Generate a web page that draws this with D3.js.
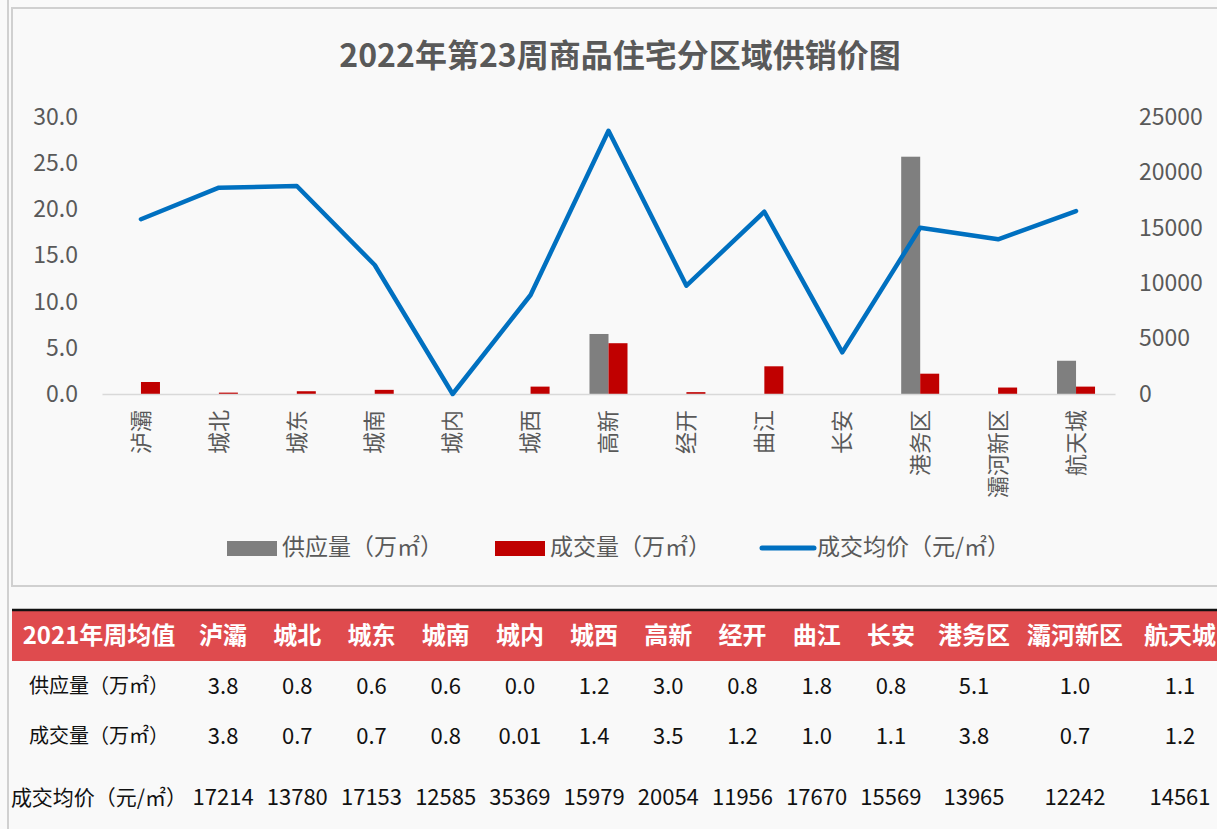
<!DOCTYPE html>
<html>
<head>
<meta charset="utf-8">
<script src="https://cdn.jsdelivr.net/npm/d3@7"></script>
<style>
  body { margin: 0; background: #f9f9f9; }
  svg { display: block; font-family: "Noto Sans CJK SC", "Noto Sans", sans-serif; }
</style>
</head>
<body>
<div id="chart"></div>
<script>
const categories = ["泸灞","城北","城东","城南","城内","城西","高新","经开","曲江","长安","港务区","灞河新区","航天城"];
const supply = [0, 0, 0, 0, 0, 0, 6.5, 0, 0, 0, 25.7, 0, 3.6];
const deal = [1.3, 0.15, 0.3, 0.45, 0, 0.8, 5.5, 0.2, 3.0, 0, 2.2, 0.7, 0.8];
const price = [15770, 18620, 18770, 11640, 0, 8935, 23760, 9775, 16450, 3760, 15010, 13960, 16515];

const seriesNames = ["供应量（万㎡）", "成交量（万㎡）", "成交均价（元/㎡）"];
const leftTicks = [0, 5, 10, 15, 20, 25, 30];
const rightTicks = [0, 5000, 10000, 15000, 20000, 25000];

const tableHead = "2021年周均值";
const rowLabels = ["供应量（万㎡）", "成交量（万㎡）", "成交均价（元/㎡）"];
const avgSupply = ["3.8","0.8","0.6","0.6","0.0","1.2","3.0","0.8","1.8","0.8","5.1","1.0","1.1"];
const avgDeal = ["3.8","0.7","0.7","0.8","0.01","1.4","3.5","1.2","1.0","1.1","3.8","0.7","1.2"];
const avgPrice = ["17214","13780","17153","12585","35369","15979","20054","11956","17670","15569","13965","12242","14561"];

const width = 1217, height = 829;
const grey = "#7f7f7f", red = "#c00000", blue = "#0070c0", txt = "#595959";

const svg = d3.select("#chart").append("svg")
  .attr("width", width).attr("height", height);

svg.append("rect").attr("width", width).attr("height", height).attr("fill", "#f9f9f9");

// frame lines
svg.append("line").attr("x1", 8).attr("x2", 8).attr("y1", 0).attr("y2", height)
  .attr("stroke", "#d0d0d0").attr("stroke-width", 2);
svg.append("rect").attr("x", 12).attr("y", 8).attr("width", 1220).attr("height", 578)
  .attr("fill", "#f9f9f9").attr("stroke", "#d0d0d0").attr("stroke-width", 2);

// title
svg.append("text").attr("x", 620).attr("y", 58)
  .attr("text-anchor", "middle").attr("dominant-baseline", "middle")
  .attr("font-size", 32).attr("font-weight", "bold").attr("fill", txt)
  .text("2022年第23周商品住宅分区域供销价图");

const x = d3.scaleBand().domain(categories).range([102, 1115]).padding(0);
const bw = 19;
const sub = d3.scaleBand().domain([0, 1]).range([x.bandwidth() / 2 - bw, x.bandwidth() / 2 + bw]);
const yL = d3.scaleLinear().domain([0, 30]).range([394, 117]);
const yR = d3.scaleLinear().domain([0, 25000]).range([394, 117]);

// bars
const g = svg.append("g");
g.selectAll("rect.s").data(supply).join("rect")
  .attr("class", "s")
  .attr("x", (d, i) => x(categories[i]) + sub(0))
  .attr("y", d => yL(d))
  .attr("width", sub.bandwidth())
  .attr("height", d => yL(0) - yL(d))
  .attr("fill", grey);
g.selectAll("rect.d").data(deal).join("rect")
  .attr("class", "d")
  .attr("x", (d, i) => x(categories[i]) + sub(1))
  .attr("y", d => yL(d))
  .attr("width", sub.bandwidth())
  .attr("height", d => yL(0) - yL(d))
  .attr("fill", red);

// x axis
const xAxis = svg.append("g").attr("transform", `translate(0,${yL(0)})`)
  .call(d3.axisBottom(x).tickSize(0).tickSizeOuter(0));
xAxis.select(".domain").attr("stroke", "#d9d9d9").attr("stroke-width", 1.5);
xAxis.selectAll("text")
  .attr("font-size", 22).attr("fill", txt).attr("font-family", "Noto Sans CJK SC")
  .attr("transform", "rotate(-90)")
  .attr("text-anchor", "end")
  .attr("x", -16).attr("y", 0).attr("dy", "0.35em");

// left axis
const la = svg.append("g").attr("transform", "translate(78,0)")
  .call(d3.axisLeft(yL).tickValues(leftTicks).tickFormat(d3.format(".1f")).tickSize(0).tickPadding(0));
la.select(".domain").remove();
la.selectAll("text").attr("font-size", 23).attr("fill", txt).attr("font-family", "Noto Sans CJK SC");

// right axis
const ra = svg.append("g").attr("transform", "translate(1139,0)")
  .call(d3.axisRight(yR).tickValues(rightTicks).tickFormat(d3.format("d")).tickSize(0).tickPadding(0));
ra.select(".domain").remove();
ra.selectAll("text").attr("font-size", 23).attr("fill", txt).attr("font-family", "Noto Sans CJK SC");

// price line
const line = d3.line()
  .x((d, i) => x(categories[i]) + x.bandwidth() / 2)
  .y(d => yR(d));
svg.append("path").datum(price)
  .attr("d", line).attr("fill", "none")
  .attr("stroke", blue).attr("stroke-width", 4.5)
  .attr("stroke-linejoin", "round").attr("stroke-linecap", "round");

// legend
const lg = svg.append("g").attr("font-size", 23).attr("fill", txt);
const legendX = [227, 495, 762];
lg.append("rect").attr("x", legendX[0]).attr("y", 541).attr("width", 50).attr("height", 15).attr("fill", grey);
lg.append("rect").attr("x", legendX[1]).attr("y", 541).attr("width", 50).attr("height", 15).attr("fill", red);
lg.append("line").attr("x1", legendX[2]).attr("x2", legendX[2] + 52).attr("y1", 548).attr("y2", 548)
  .attr("stroke", blue).attr("stroke-width", 5).attr("stroke-linecap", "round");
seriesNames.forEach((s, i) => {
  lg.append("text").attr("x", legendX[i] + 55).attr("y", 549)
    .attr("dominant-baseline", "middle").attr("fill", txt).text(s);
});

// table
const colW = [174, 74.2, 74.2, 74.2, 74.2, 74.2, 74.2, 74.2, 74.2, 74.2, 74.2, 92, 110, 100];
const colX = [];
colW.reduce((acc, w) => { colX.push(acc + w / 2); return acc + w; }, 12);

svg.append("rect").attr("x", 12).attr("y", 611).attr("width", width).attr("height", 50).attr("fill", "#df4b4e");
svg.append("line").attr("x1", 12).attr("x2", width).attr("y1", 610).attr("y2", 610)
  .attr("stroke", "#111").attr("stroke-width", 2.5);

const head = [tableHead].concat(categories);
svg.append("g").selectAll("text").data(head).join("text")
  .attr("x", (d, i) => colX[i]).attr("y", 637)
  .attr("text-anchor", "middle").attr("dominant-baseline", "middle")
  .attr("font-size", 24).attr("font-weight", "bold").attr("fill", "#fff")
  .text(d => d);

const rows = [avgSupply, avgDeal, avgPrice];
const rowY = [688, 738, 799];
rows.forEach((r, ri) => {
  const cells = [rowLabels[ri]].concat(r);
  svg.append("g").selectAll("text").data(cells).join("text")
    .attr("x", (d, i) => colX[i]).attr("y", rowY[ri])
    .attr("text-anchor", "middle").attr("dominant-baseline", "middle")
    .attr("font-size", (d, i) => i === 0 ? (ri === 2 ? 21 : 20) : 22).attr("fill", "#111")
    .text(d => d);
});
</script>
</body>
</html>
